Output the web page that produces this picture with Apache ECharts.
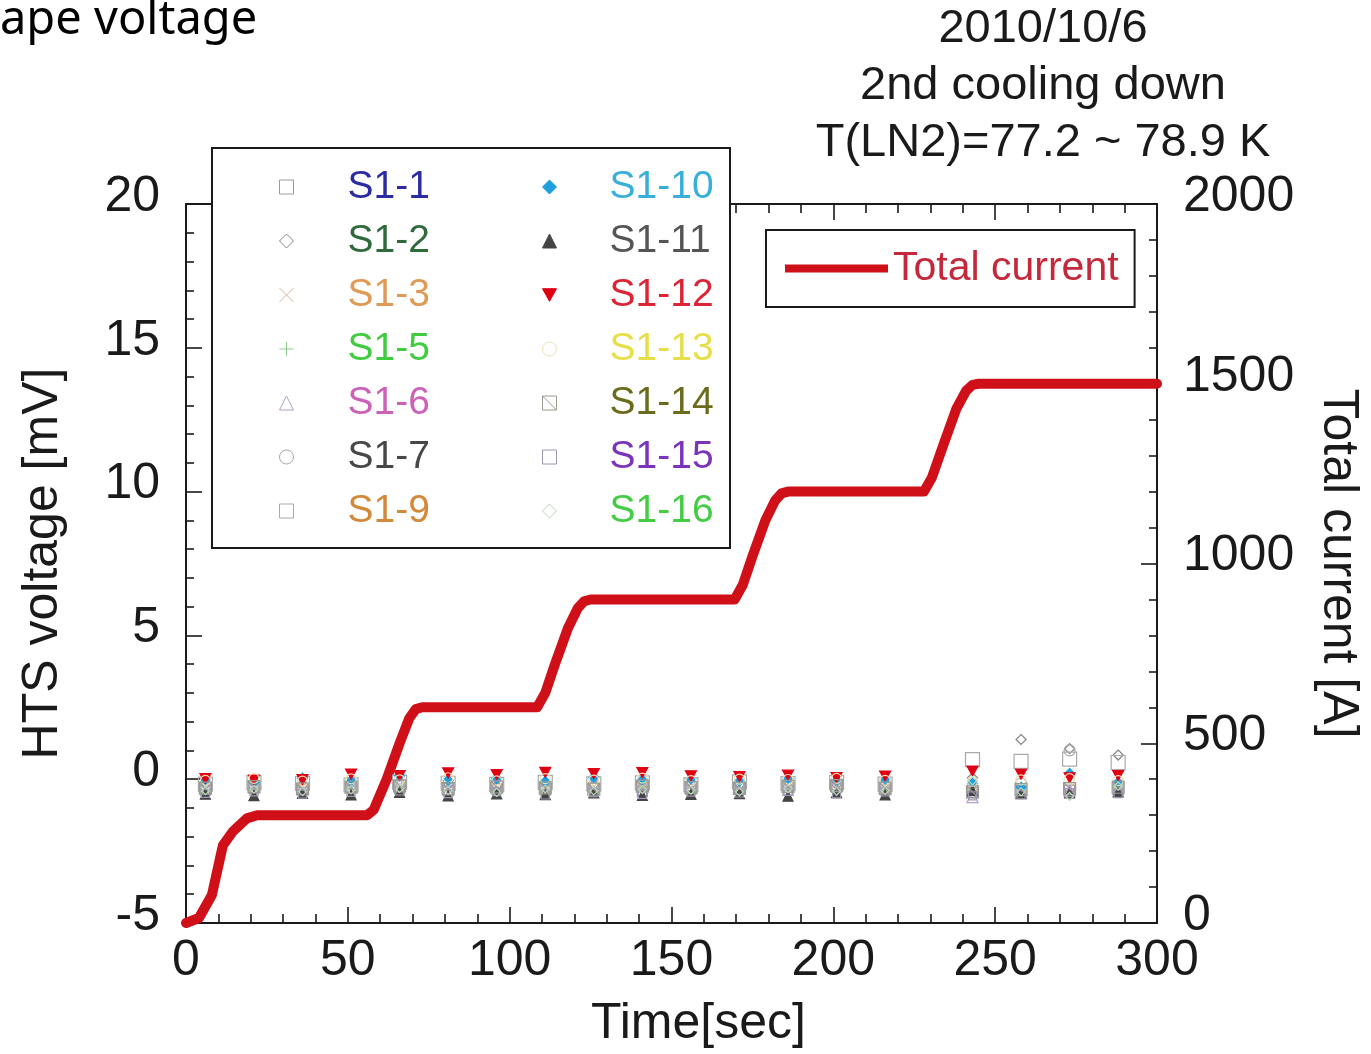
<!DOCTYPE html>
<html>
<head>
<meta charset="utf-8">
<script src="https://cdn.jsdelivr.net/npm/echarts@6/dist/echarts.min.js"></script>
<style>
  html, body { margin: 0; padding: 0; background: #fff; }
  #chart { width: 1371px; height: 1054px; }
</style>
</head>
<body>
<div id="chart"></div>
<script>
// Sampling times of the tape voltage taps [sec]
const times = [6, 21, 36, 51, 66, 81, 96, 111, 126, 141, 156, 171, 186, 201, 216, 243, 258, 273, 288];

// HTS tape voltages per tap [mV]
const s1_1  = [-0.38, -0.31, -0.36, -0.29, -0.34, -0.41, -0.33, -0.37, -0.30, -0.43, -0.35, -0.32, -0.39, -0.28, -0.36, -0.47, -0.42, -0.38, -0.33];
const s1_2  = [-0.18, -0.12, -0.21, -0.15, -0.09, -0.17, -0.22, -0.14, -0.19, -0.11, -0.16, -0.20, -0.13, -0.18, -0.15, 0.05, 1.38, 1.06, 0.84];
const s1_3  = [-0.27, -0.33, -0.25, -0.31, -0.36, -0.24, -0.29, -0.34, -0.26, -0.30, -0.37, -0.23, -0.32, -0.27, -0.35, -0.22, -0.28, -0.31, -0.19];
const s1_5  = [-0.45, -0.38, -0.42, -0.33, -0.47, -0.40, -0.36, -0.44, -0.39, -0.31, -0.46, -0.41, -0.35, -0.43, -0.37, -0.10, -0.52, -0.55, -0.30];
const s1_6  = [-0.08, -0.14, -0.11, -0.05, -0.16, -0.09, -0.13, -0.07, -0.12, -0.15, -0.06, -0.10, -0.14, -0.08, -0.11, -0.62, -0.45, -0.40, -0.35];
const s1_7  = [-0.22, -0.19, -0.25, -0.17, -0.21, -0.27, -0.18, -0.24, -0.20, -0.16, -0.23, -0.26, -0.19, -0.22, -0.25, -0.30, -0.15, 1.00, -0.20];
const s1_9  = [-0.17, -0.12, -0.15, -0.20, -0.10, -0.14, -0.18, -0.11, -0.16, -0.13, -0.19, -0.09, -0.15, -0.12, -0.17, 0.68, 0.62, 0.70, 0.58];
const s1_10 = [-0.02, -0.10, 0.04, -0.06, 0.12, -0.04, 0.02, -0.08, 0.06, -0.03, 0.01, -0.07, 0.03, -0.05, 0.00, -0.15, -0.28, 0.20, -0.12];
const s1_11 = [-0.52, -0.57, -0.49, -0.55, -0.46, -0.58, -0.51, -0.54, -0.48, -0.56, -0.53, -0.50, -0.59, -0.47, -0.55, -0.40, -0.50, -0.48, -0.44];
const s1_12 = [0.02, -0.03, -0.01, 0.18, 0.13, 0.22, 0.16, 0.24, 0.20, 0.23, 0.12, 0.09, 0.14, 0.06, 0.11, 0.28, 0.17, 0.05, 0.13];
const s1_13 = [-0.04, 0.03, -0.07, 0.01, -0.02, 0.05, -0.06, 0.02, -0.03, 0.04, -0.05, 0.00, -0.01, 0.03, -0.04, -0.08, -0.02, 0.02, -0.05];
const s1_14 = [-0.31, -0.26, -0.34, -0.28, -0.23, -0.33, -0.27, -0.30, -0.35, -0.24, -0.29, -0.32, -0.25, -0.22, -0.31, -0.44, -0.36, -0.33, -0.28];
const s1_15 = [-0.49, -0.44, -0.52, -0.46, -0.41, -0.50, -0.43, -0.55, -0.47, -0.53, -0.45, -0.48, -0.42, -0.51, -0.44, -0.58, -0.54, -0.47, -0.50];
const s1_16 = [-0.40, -0.35, -0.43, -0.37, -0.32, -0.39, -0.46, -0.34, -0.41, -0.36, -0.38, -0.44, -0.33, -0.42, -0.39, -0.06, -0.44, -0.60, -0.24];

// Total transport current profile [sec] / [A]
const currentTime = [0, 4, 8, 11.4, 14.5, 18.8, 22, 56, 58, 62, 66, 69, 71, 73, 108.5, 111, 114, 118, 121, 123, 125,
                     169.5, 172, 175, 179, 182, 184, 186, 228, 230.5, 234, 238, 241, 243, 245, 300];
const currentA    = [0, 14, 78, 216, 255, 291, 300, 300, 315, 400, 500, 570, 595, 600, 600, 640, 720, 820, 875, 895, 900,
                     900, 940, 1020, 1120, 1175, 1195, 1200, 1200, 1240, 1330, 1430, 1480, 1497, 1500, 1500];

// Axis ticks
const xTicks = [0, 50, 100, 150, 200, 250, 300];
const voltageTicks = [-5, 0, 5, 10, 15, 20];
const currentTicks = [0, 500, 1000, 1500, 2000];

const FONT = '"Liberation Sans", Arial, Helvetica, sans-serif';
const INK = '#1a1a1a';
const AXIS_FS = 50;

const pair = (xs, ys) => xs.map((x, i) => [x, ys[i]]);

// Marker shapes
const SYM_X = 'path://M0,0L10,10M10,0L0,10';
const SYM_PLUS = 'path://M5,0L5,10M0,5L10,5';
const SYM_BOXDIAG = 'path://M0,0H10V10H0ZM0,0L10,10';
const SYM_DOWN = 'path://M0,0L10,0L5,9Z';

// name, values, symbol, size, fill, stroke, label colour
const taps = [
  ['S1-1',  s1_1,  'rect',      10, 'none',    '#9a9aa4', '#2b2ba3'],
  ['S1-2',  s1_2,  'diamond',   10, 'none',    '#858585', '#2f6a3a'],
  ['S1-3',  s1_3,  SYM_X,       10, 'none',    '#d9b497', '#e09a55'],
  ['S1-5',  s1_5,  SYM_PLUS,    10, 'none',    '#8fcf8f', '#3fcc3f'],
  ['S1-6',  s1_6,  'triangle',  11, 'none',    '#b49ccc', '#cc62b8'],
  ['S1-7',  s1_7,  'circle',    11, 'none',    '#a8a8a8', '#474747'],
  ['S1-9',  s1_9,  'rect',      14, 'none',    '#aaaaaa', '#d4893a'],
  ['S1-10', s1_10, 'diamond',   10, '#1e9fdf', '#1e9fdf', '#38aedb'],
  ['S1-11', s1_11, 'triangle',  10, '#444444', '#444444', '#555555'],
  ['S1-12', s1_12, SYM_DOWN,    11, '#e00012', '#e00012', '#dd2435'],
  ['S1-13', s1_13, 'circle',    10, 'none',    '#ece2b8', '#e6df4a'],
  ['S1-14', s1_14, SYM_BOXDIAG, 12, 'none',    '#9a9a90', '#6b6b1c'],
  ['S1-15', s1_15, 'rect',       8, 'none',    '#9c94b0', '#7a34bc'],
  ['S1-16', s1_16, 'diamond',    8, 'none',    '#b8d8b8', '#45cc45']
];

const tapSeries = taps.map(([name, vals, symbol, size, fill, stroke]) => ({
  name,
  type: 'scatter',
  xAxisIndex: 0,
  yAxisIndex: 0,
  symbol,
  symbolSize: size,
  symbolKeepAspect: true,
  data: pair(times, vals),
  itemStyle: { color: fill, borderColor: stroke, borderWidth: 1.2, opacity: 1 },
  z: 3,
  silent: true
}));

const legendItems = taps.map(t => ({ name: t[0], textStyle: { color: t[6] } }));

const tapLegendCommon = {
  orient: 'vertical',
  top: 167,
  itemWidth: 14,
  itemHeight: 14,
  itemGap: 14,
  selectedMode: false,
  padding: 0,
  z: 6,
  itemStyle: { borderWidth: 1 },
  textStyle: { fontFamily: FONT, fontSize: 39, lineHeight: 40 }
};

const chart = echarts.init(document.getElementById('chart'), null, { renderer: 'canvas' });

const tickLine = { color: INK, width: 1.6 };

chart.setOption({
  animation: false,
  backgroundColor: '#ffffff',
  textStyle: { fontFamily: FONT },
  title: {
    text: '2010/10/6\n2nd cooling down\nT(LN2)=77.2 ~ 78.9 K',
    left: 1038,
    top: -4,
    textAlign: 'center',
    textStyle: { fontFamily: FONT, fontSize: 47, fontWeight: 'normal', color: INK, lineHeight: 57 }
  },
  grid: { left: 186, right: 213, top: 204, bottom: 129, containLabel: false },
  xAxis: [
    {
      type: 'value', position: 'bottom', min: 0, max: 300, interval: 50,
      name: 'Time[sec]', nameLocation: 'middle', nameGap: 76,
      nameTextStyle: { fontSize: AXIS_FS, color: INK, padding: [0, 0, 0, 54] },
      axisLine: { show: true, onZero: false, lineStyle: { color: INK, width: 2 } },
      axisTick: { show: true, inside: true, length: 16, lineStyle: tickLine },
      minorTick: { show: true, splitNumber: 5, length: 9, lineStyle: tickLine },
      axisLabel: { fontSize: AXIS_FS, color: INK, margin: 13,
        formatter: v => (xTicks.includes(v) ? String(v) : '') },
      splitLine: { show: false }
    },
    {
      type: 'value', position: 'top', min: 0, max: 300, interval: 50,
      axisLine: { show: true, onZero: false, lineStyle: { color: INK, width: 2 } },
      axisTick: { show: true, inside: true, length: 16, lineStyle: tickLine },
      minorTick: { show: true, splitNumber: 5, length: 9, lineStyle: tickLine },
      axisLabel: { show: false },
      splitLine: { show: false }
    }
  ],
  yAxis: [
    {
      type: 'value', position: 'left', min: -5, max: 20, interval: 5,
      name: 'HTS voltage [mV]', nameLocation: 'middle', nameGap: 118,
      nameTextStyle: { fontSize: AXIS_FS, color: INK },
      axisLine: { show: true, onZero: false, lineStyle: { color: INK, width: 2 } },
      axisTick: { show: true, inside: true, length: 16, lineStyle: tickLine },
      minorTick: { show: true, splitNumber: 5, length: 8, lineStyle: tickLine },
      axisLabel: { fontSize: AXIS_FS, color: INK, margin: 26, verticalAlign: 'bottom', lineHeight: 14,
        formatter: v => (voltageTicks.includes(v) ? String(v) : '') },
      splitLine: { show: false }
    },
    {
      type: 'value', position: 'right', min: 0, max: 2000, interval: 500,
      name: 'Total current [A]', nameLocation: 'middle', nameGap: 156, nameRotate: -90,
      nameTextStyle: { fontSize: AXIS_FS, color: INK },
      axisLine: { show: true, onZero: false, lineStyle: { color: INK, width: 2 } },
      axisTick: { show: true, inside: true, length: 16, lineStyle: tickLine },
      minorTick: { show: true, splitNumber: 5, length: 8, lineStyle: tickLine },
      axisLabel: { fontSize: AXIS_FS, color: INK, margin: 26, verticalAlign: 'bottom', lineHeight: 14,
        formatter: v => (currentTicks.includes(v) ? String(v) : '') },
      splitLine: { show: false }
    }
  ],
  legend: [
    Object.assign({}, tapLegendCommon, {
      left: 277,
      data: legendItems.slice(0, 7),
      textStyle: Object.assign({}, tapLegendCommon.textStyle, { padding: [0, 0, 0, 49] })
    }),
    Object.assign({}, tapLegendCommon, {
      left: 540,
      data: legendItems.slice(7),
      textStyle: Object.assign({}, tapLegendCommon.textStyle, { padding: [0, 0, 0, 48] })
    }),
    {
      left: 766, top: 230,
      orient: 'horizontal',
      selectedMode: false,
      backgroundColor: '#ffffff',
      borderColor: INK, borderWidth: 2, borderRadius: 0,
      padding: [18, 16, 18, 19],
      itemWidth: 103, itemHeight: 14,
      z: 6,
      data: [{ name: 'Total current', icon: 'path://M0,0H100V8H0Z', itemStyle: { color: '#d01018' } }],
      textStyle: { fontFamily: FONT, fontSize: 41, lineHeight: 40, color: '#c4283a' }
    }
  ],
  graphic: [
    {
      type: 'rect', z: 5,
      shape: { x: 212, y: 148, width: 518, height: 400 },
      style: { fill: '#ffffff', stroke: INK, lineWidth: 2 }
    },
    {
      type: 'text', z: 5,
      style: { x: 0, y: 21, text: 'ape voltage', verticalAlign: 'middle',
        font: '47px "Noto Sans", "Open Sans", sans-serif', fill: '#000' }
    }
  ],
  series: [
    {
      name: 'Total current',
      type: 'line',
      xAxisIndex: 0,
      yAxisIndex: 1,
      data: pair(currentTime, currentA),
      showSymbol: false,
      symbol: 'none',
      lineStyle: { color: '#d01018', width: 10, join: 'round', cap: 'round' },
      itemStyle: { color: '#d01018' },
      z: 2,
      silent: true
    }
  ].concat(tapSeries)
});
</script>
</body>
</html>
